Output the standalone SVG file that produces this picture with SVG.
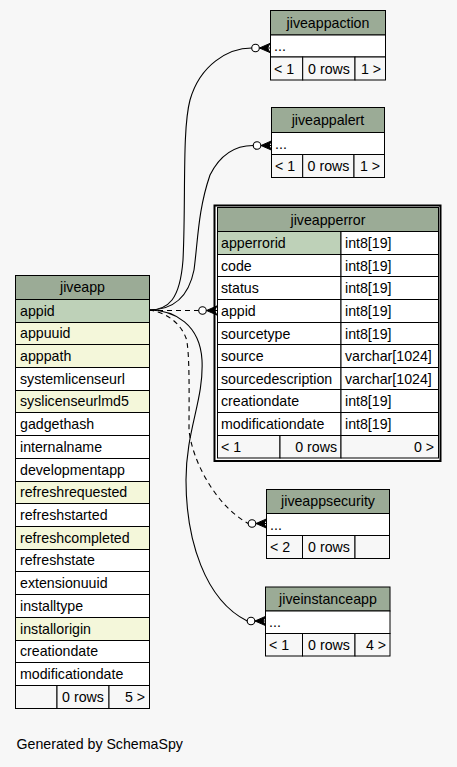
<svg xmlns="http://www.w3.org/2000/svg" width="457" height="767" viewBox="0 0 457 767">
<style>
text{font-family:"Liberation Sans",Arial,Helvetica,sans-serif;font-size:14.2px;fill:#000}
.m{text-anchor:middle}
.e{text-anchor:end}
.c{stroke:#000;stroke-width:1}
.hd{fill:#9bab96;stroke:#000;stroke-width:1}
.pk{fill:#bed1b8;stroke:#000;stroke-width:1}
.ix{fill:#f4f7da;stroke:#000;stroke-width:1}
.w{fill:#ffffff;stroke:#000;stroke-width:1}
.f{fill:#f7f7f7;stroke:#000;stroke-width:1}
.ln{fill:none;stroke:#000;stroke-width:1.1}
.ds{stroke-dasharray:5,4}
</style>
<defs>
<g id="crowodot">
<path d="M-10.5,0 L0,0" stroke="#000" stroke-width="1"/>
<path d="M0,-4.6 L-10.5,0 L0,4.6 L-2.5,0 Z" fill="#000" stroke="#000" stroke-width="1"/>
<circle cx="-14.5" cy="0" r="3.8" fill="#fff" stroke="#000" stroke-width="1.1"/>
</g>
</defs>
<rect width="457" height="767" fill="#f7f7f7"/>

<g id="jiveappaction">
<rect class="hd" x="270.5" y="10.5" width="115" height="24.5"/>
<text class="m" x="328" y="27.5">jiveappaction</text>
<rect class="w" x="270.5" y="35" width="115" height="22"/>
<text x="274" y="51">...</text>
<rect class="f" x="270.5" y="57" width="32.2" height="23"/>
<rect class="f" x="302.7" y="57" width="52.3" height="23"/>
<rect class="f" x="355" y="57" width="30.5" height="23"/>
<text x="274" y="73.5">&lt; 1</text>
<text class="m" x="329" y="73.5">0 rows</text>
<text class="e" x="381" y="73.5">1 &gt;</text>
</g>

<g id="jiveappalert">
<rect class="hd" x="271.5" y="107.5" width="113" height="25"/>
<text class="m" x="328" y="125">jiveappalert</text>
<rect class="w" x="271.5" y="132.5" width="113" height="22"/>
<text x="275" y="148.5">...</text>
<rect class="f" x="271.5" y="154.5" width="31.2" height="23"/>
<rect class="f" x="302.7" y="154.5" width="51.3" height="23"/>
<rect class="f" x="354" y="154.5" width="30.5" height="23"/>
<text x="275" y="171">&lt; 1</text>
<text class="m" x="328.5" y="171">0 rows</text>
<text class="e" x="380" y="171">1 &gt;</text>
</g>

<g id="jiveapperror">
<rect x="214.5" y="205.5" width="226" height="255.5" fill="#ffffff" stroke="#000" stroke-width="2"/>
<rect class="hd" x="217.5" y="207.5" width="221" height="24"/>
<text class="m" x="328" y="224.5">jiveapperror</text>
<rect class="pk" x="217.5" y="231.5" width="123.5" height="23"/><rect class="w" x="341" y="231.5" width="97.5" height="23"/>
<text x="221" y="247.5">apperrorid</text><text x="345" y="247.5">int8[19]</text>
<rect class="w" x="217.5" y="254.5" width="123.5" height="22"/><rect class="w" x="341" y="254.5" width="97.5" height="22"/>
<text x="221" y="270.5">code</text><text x="345" y="270.5">int8[19]</text>
<rect class="w" x="217.5" y="276.5" width="123.5" height="23"/><rect class="w" x="341" y="276.5" width="97.5" height="23"/>
<text x="221" y="292.5">status</text><text x="345" y="292.5">int8[19]</text>
<rect class="w" x="217.5" y="299.5" width="123.5" height="23"/><rect class="w" x="341" y="299.5" width="97.5" height="23"/>
<text x="221" y="315.5">appid</text><text x="345" y="315.5">int8[19]</text>
<rect class="w" x="217.5" y="322.5" width="123.5" height="22"/><rect class="w" x="341" y="322.5" width="97.5" height="22"/>
<text x="221" y="338.5">sourcetype</text><text x="345" y="338.5">int8[19]</text>
<rect class="w" x="217.5" y="344.5" width="123.5" height="23"/><rect class="w" x="341" y="344.5" width="97.5" height="23"/>
<text x="221" y="360.5">source</text><text x="345" y="360.5">varchar[1024]</text>
<rect class="w" x="217.5" y="367.5" width="123.5" height="22"/><rect class="w" x="341" y="367.5" width="97.5" height="22"/>
<text x="221" y="383.5">sourcedescription</text><text x="345" y="383.5">varchar[1024]</text>
<rect class="w" x="217.5" y="389.5" width="123.5" height="23"/><rect class="w" x="341" y="389.5" width="97.5" height="23"/>
<text x="221" y="405.5">creationdate</text><text x="345" y="405.5">int8[19]</text>
<rect class="w" x="217.5" y="412.5" width="123.5" height="23"/><rect class="w" x="341" y="412.5" width="97.5" height="23"/>
<text x="221" y="428.5">modificationdate</text><text x="345" y="428.5">int8[19]</text>
<rect class="f" x="217.5" y="435.5" width="62.5" height="22.5"/><rect class="f" x="280" y="435.5" width="61" height="22.5"/><rect class="f" x="341" y="435.5" width="97.5" height="22.5"/>
<text x="221" y="451.5">&lt; 1</text><text class="e" x="337" y="451.5">0 rows</text><text class="e" x="434" y="451.5">0 &gt;</text>
</g>

<g id="jiveapp">
<rect class="hd" x="15.5" y="275.5" width="134" height="24"/>
<text class="m" x="82.5" y="292">jiveapp</text>
<rect class="pk" x="15.5" y="299.5" width="134" height="23"/><text x="20" y="315.5">appid</text>
<rect class="ix" x="15.5" y="322.5" width="134" height="22"/><text x="20" y="338">appuuid</text>
<rect class="ix" x="15.5" y="344.5" width="134" height="23"/><text x="20" y="360.5">apppath</text>
<rect class="w" x="15.5" y="367.5" width="134" height="23"/><text x="20" y="383.5">systemlicenseurl</text>
<rect class="ix" x="15.5" y="390.5" width="134" height="22"/><text x="20" y="406">syslicenseurlmd5</text>
<rect class="w" x="15.5" y="412.5" width="134" height="23"/><text x="20" y="428.5">gadgethash</text>
<rect class="w" x="15.5" y="435.5" width="134" height="23"/><text x="20" y="451.5">internalname</text>
<rect class="w" x="15.5" y="458.5" width="134" height="23"/><text x="20" y="474.5">developmentapp</text>
<rect class="ix" x="15.5" y="481.5" width="134" height="22"/><text x="20" y="497">refreshrequested</text>
<rect class="w" x="15.5" y="503.5" width="134" height="23"/><text x="20" y="519.5">refreshstarted</text>
<rect class="ix" x="15.5" y="526.5" width="134" height="23"/><text x="20" y="542.5">refreshcompleted</text>
<rect class="w" x="15.5" y="549.5" width="134" height="22"/><text x="20" y="565">refreshstate</text>
<rect class="w" x="15.5" y="571.5" width="134" height="23"/><text x="20" y="587.5">extensionuuid</text>
<rect class="w" x="15.5" y="594.5" width="134" height="23"/><text x="20" y="610.5">installtype</text>
<rect class="ix" x="15.5" y="617.5" width="134" height="23"/><text x="20" y="633.5">installorigin</text>
<rect class="w" x="15.5" y="640.5" width="134" height="22"/><text x="20" y="656">creationdate</text>
<rect class="w" x="15.5" y="662.5" width="134" height="23"/><text x="20" y="678.5">modificationdate</text>
<rect class="f" x="15.5" y="685.5" width="41.5" height="23"/>
<rect class="f" x="57" y="685.5" width="52" height="23"/>
<rect class="f" x="109" y="685.5" width="40.5" height="23"/>
<text class="m" x="83" y="701.5">0 rows</text>
<text class="e" x="145" y="701.5">5 &gt;</text>
</g>

<g id="jiveappsecurity">
<rect class="hd" x="266.5" y="489.5" width="123" height="24"/>
<text class="m" x="328" y="506">jiveappsecurity</text>
<rect class="w" x="266.5" y="513.5" width="123" height="22"/>
<text x="270" y="529.5">...</text>
<rect class="f" x="266.5" y="535.5" width="36" height="23"/>
<rect class="f" x="302.5" y="535.5" width="52.5" height="23"/>
<rect class="f" x="355" y="535.5" width="34.5" height="23"/>
<text x="270" y="552">&lt; 2</text>
<text class="m" x="329" y="552">0 rows</text>
</g>

<g id="jiveinstanceapp">
<rect class="hd" x="265.5" y="587" width="124.5" height="24"/>
<text class="m" x="328" y="603.5">jiveinstanceapp</text>
<rect class="w" x="265.5" y="611" width="124.5" height="22.5"/>
<text x="269" y="627">...</text>
<rect class="f" x="265.5" y="633.5" width="37" height="22.5"/>
<rect class="f" x="302.5" y="633.5" width="52.5" height="22.5"/>
<rect class="f" x="355" y="633.5" width="35" height="22.5"/>
<text x="269" y="649.5">&lt; 1</text>
<text class="m" x="329" y="649.5">0 rows</text>
<text class="e" x="386" y="649.5">4 &gt;</text>
</g>

<g id="connectors">
<path class="ln" d="M149,310 C168,310 180,300 183,260 C186,200 182,130 190,100 C200,65 228,48 251.7,48"/>
<use href="#crowodot" transform="translate(270,48)"/>
<path class="ln" d="M149,310 C170,310 188,300 194,270 C198,240 198,210 210,175 C220,155 235,145.5 253.2,145.5"/>
<use href="#crowodot" transform="translate(271.5,145.5)"/>
<path class="ln ds" d="M149,310.5 L198.7,310.5"/>
<use href="#crowodot" transform="translate(217,310.5)"/>
<path class="ln ds" d="M149,310 C165,312 180,322 186,338 C190,350 189,400 189,430 C192,460 215,505 248.2,523.5"/>
<use href="#crowodot" transform="translate(266.5,523.5)"/>
<path class="ln" d="M149,310 C175,310 200,325 202,360 C204,400 186,430 186,480 C186,540 205,600 247.2,621"/>
<use href="#crowodot" transform="translate(265.5,621)"/>
</g>

<text x="16.5" y="749">Generated by SchemaSpy</text>
</svg>
